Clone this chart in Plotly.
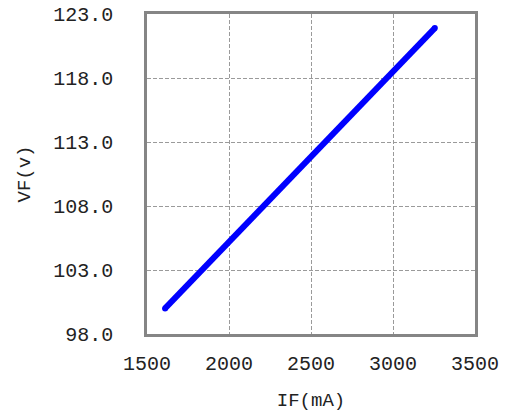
import plotly.graph_objects as go

IF_mA = [1610, 3255]
VF_v = [100.0, 121.9]

x_ticks = [1500, 2000, 2500, 3000, 3500]
y_ticks = [98, 103, 108, 113, 118, 123]
y_tick_text = ["98.0", "103.0", "108.0", "113.0", "118.0", "123.0"]

FONT = "Liberation Mono, DejaVu Sans Mono, monospace"

fig = go.Figure()
fig.add_trace(go.Scatter(
    x=IF_mA, y=VF_v, mode="lines+markers",
    line=dict(color="#0000ff", width=6),
    marker=dict(color="#0000ff", size=6),
    showlegend=False, hoverinfo="skip", cliponaxis=False,
))

axis_common = dict(
    showgrid=True, gridcolor="#9a9a9a", griddash="4px,2px", gridwidth=1,
    showline=True, linecolor="#858585", linewidth=2.5, mirror=True,
    zeroline=False, ticks="", automargin=False,
    tickfont=dict(family=FONT, size=20, color="#222"),
)

fig.update_layout(
    width=507, height=412,
    margin=dict(l=147, r=32, t=14, b=78),
    paper_bgcolor="white", plot_bgcolor="white",
    font=dict(family=FONT, color="#222"),
    xaxis=dict(range=[1500, 3500], tickvals=x_ticks, ticklabelstandoff=9,
               title=dict(text="IF(mA)", font=dict(family=FONT, size=19, color="#222"), standoff=19),
               **axis_common),
    yaxis=dict(range=[98, 123], tickvals=y_ticks, ticktext=y_tick_text, ticklabelstandoff=27,
               title=dict(text="VF(v)", font=dict(family=FONT, size=19, color="#222"), standoff=18),
               **axis_common),
)

fig.write_html(
    "out.html",
    config={"displayModeBar": False},
    post_script="document.body.style.margin='0';document.body.style.overflow='hidden';",
)
